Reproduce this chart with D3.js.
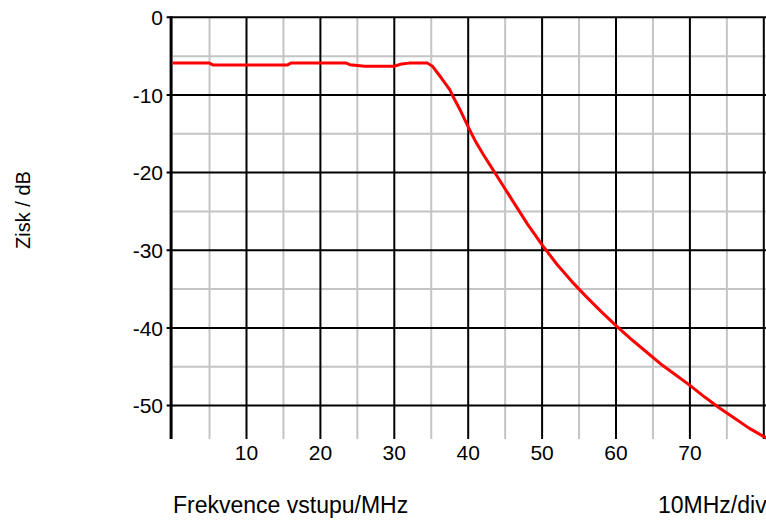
<!DOCTYPE html>
<html>
<head>
<meta charset="utf-8">
<script src="https://cdn.jsdelivr.net/npm/d3@7"></script>
<style>
  html, body { margin: 0; padding: 0; background: #fff; overflow: hidden; }
  text { font-family: "Liberation Sans", Arial, sans-serif; fill: #000; }
</style>
</head>
<body>
<svg id="chart" width="766" height="521"></svg>
<script>
// ---- data ----
const freqMHz = [0, 5, 5.5, 15.5, 16, 23.5, 24, 26, 30, 31, 32, 34.5, 35.2, 36.4, 37.5, 38, 39, 40, 41, 42, 43, 44, 45, 46, 48, 50, 52, 54, 56, 58, 60, 62, 64, 66, 68, 70, 72, 74, 76, 78, 80.4];
const gainDB  = [-5.9, -5.9, -6.15, -6.15, -5.9, -5.9, -6.1, -6.3, -6.3, -6.0, -5.9, -5.9, -6.35, -7.85, -9.3, -10.3, -12.1, -14.1, -16.0, -17.6, -19.1, -20.6, -22.1, -23.6, -26.6, -29.3, -31.8, -34.0, -36.0, -37.9, -39.7, -41.4, -43.0, -44.6, -46.0, -47.4, -48.9, -50.3, -51.6, -52.9, -54.2];
const xMajorTicks = [10, 20, 30, 40, 50, 60, 70, 80];
const xMinorTicks = [5, 15, 25, 35, 45, 55, 65, 75];
const yMajorTicks = [0, -10, -20, -30, -40, -50];
const yMinorTicks = [-5, -15, -25, -35, -45];
const xTickLabels = ["10", "20", "30", "40", "50", "60", "70"];
const yTickLabels = ["0", "-10", "-20", "-30", "-40", "-50"];
const xAxisTitle = "Frekvence vstupu/MHz";
const xScaleNote = "10MHz/div";
const yAxisTitle = "Zisk / dB";

// ---- layout ----
const svg = d3.select("#chart");
const plotLeft = 172.6, plotTop = 17.3, plotBottom = 439;
const pxPerMHz = 7.39;
const x = d3.scaleLinear().domain([0, 80.4]).range([plotLeft, plotLeft + 80.4 * pxPerMHz]);
const y = d3.scaleLinear().domain([0, -54.3]).range([plotTop, plotBottom]);

const g = svg.append("g");

// minor grid
g.selectAll(".vminor").data(xMinorTicks).join("line")
  .attr("x1", d => x(d)).attr("x2", d => x(d))
  .attr("y1", plotTop).attr("y2", plotBottom)
  .attr("stroke", "#c4c4c4").attr("stroke-width", 2);
g.selectAll(".hminor").data(yMinorTicks).join("line")
  .attr("x1", plotLeft).attr("x2", 766)
  .attr("y1", d => y(d)).attr("y2", d => y(d))
  .attr("stroke", "#c4c4c4").attr("stroke-width", 2);

// major grid
g.selectAll(".vmajor").data(xMajorTicks).join("line")
  .attr("x1", d => x(d)).attr("x2", d => x(d))
  .attr("y1", plotTop).attr("y2", plotBottom)
  .attr("stroke", "#000").attr("stroke-width", 2);
g.selectAll(".hmajor").data(yMajorTicks).join("line")
  .attr("x1", plotLeft - 6).attr("x2", 766)
  .attr("y1", d => y(d)).attr("y2", d => y(d))
  .attr("stroke", "#000").attr("stroke-width", 2);

// left axis line
g.append("line")
  .attr("x1", plotLeft - 1.5).attr("x2", plotLeft - 1.5)
  .attr("y1", plotTop - 1).attr("y2", plotBottom)
  .attr("stroke", "#000").attr("stroke-width", 3);

// curve
const line = d3.line().x((d, i) => x(freqMHz[i])).y(d => y(d));
g.append("path")
  .datum(gainDB)
  .attr("d", line)
  .attr("fill", "none")
  .attr("stroke", "#ff0000")
  .attr("stroke-width", 3)
  .attr("stroke-linejoin", "round");

// y tick labels
g.selectAll(".ylab").data(yMajorTicks).join("text")
  .attr("x", 163).attr("y", d => y(d))
  .attr("dy", "0.36em")
  .attr("text-anchor", "end")
  .attr("font-size", 21)
  .text((d, i) => yTickLabels[i]);

// x tick labels
g.selectAll(".xlab").data(xTickLabels).join("text")
  .attr("x", (d, i) => x(xMajorTicks[i]))
  .attr("y", 460)
  .attr("text-anchor", "middle")
  .attr("font-size", 21)
  .text(d => d);

// axis titles
g.append("text").attr("x", 173).attr("y", 513)
  .attr("font-size", 23).text(xAxisTitle);
g.append("text").attr("x", 658).attr("y", 513)
  .attr("font-size", 23).text(xScaleNote);
g.append("text")
  .attr("transform", "translate(30,210) rotate(-90)")
  .attr("text-anchor", "middle")
  .attr("font-size", 20)
  .text(yAxisTitle);
</script>
</body>
</html>
